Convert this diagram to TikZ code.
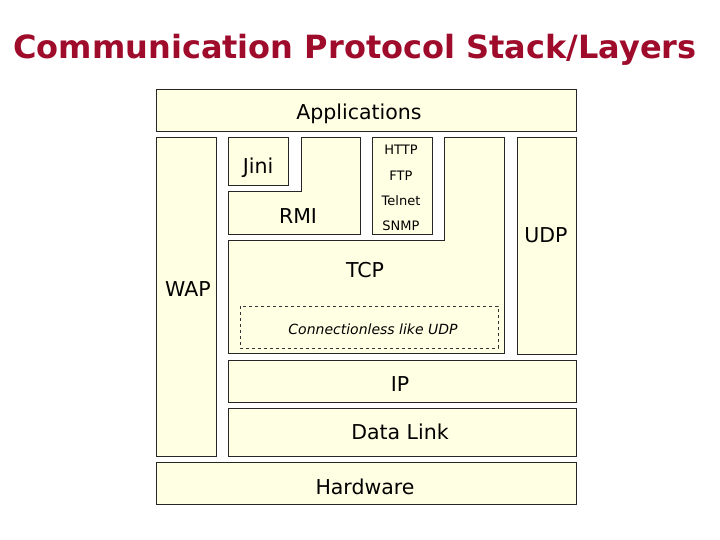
\documentclass[tikz,border=0pt]{standalone}
\usepackage{fontspec}
\setmainfont{DejaVu Sans}
\definecolor{boxfill}{HTML}{FFFFE3}
\definecolor{titlered}{HTML}{9E0B2B}
\begin{document}
\begin{tikzpicture}[x=1pt,y=-1pt,
  box/.style={draw=black!85,fill=boxfill,line width=1pt},
  lbl/.style={font=\fontsize{20.5}{24}\selectfont,inner sep=0pt},
  small/.style={font=\fontsize{13}{15}\selectfont,inner sep=0pt}]
\useasboundingbox (0,0) rectangle (720,540);
\node[text=titlered,font=\bfseries\fontsize{32}{38}\selectfont,inner sep=0pt] (title) at (355,50) {Communication Protocol Stack/Layers};
\draw[box] (156,90) rectangle (576,132);
\node[lbl] (app) at (359,114) {Applications};
\draw[box] (156,138) rectangle (216,456);
\node[lbl] (wap) at (188,289) {WAP};
\draw[box] (228,138) rectangle (288,186);
\node[lbl] (jini) at (258,168) {Jini};
\draw[box] (228,192) -- (301,192) -- (301,138) -- (360,138) -- (360,234) -- (228,234) -- cycle;
\node[lbl] (rmi) at (298,216) {RMI};
\draw[box] (372,138) rectangle (432,234);
\node[small] (http) at (401,150) {HTTP};
\node[small] (ftp) at (401,176) {FTP};
\node[small] (telnet) at (401,201) {Telnet};
\node[small] (snmp) at (401,226) {SNMP};
\draw[box] (228,240) -- (444,240) -- (444,138) -- (504,138) -- (504,353) -- (228,353) -- cycle;
\node[lbl] (tcp) at (365,270) {TCP};
\draw[dashed,draw=black!80,line width=0.8pt] (240,306) rectangle (498,348);
\node[small,font=\itshape\fontsize{14}{16}\selectfont] (cl) at (373,329) {Connectionless like UDP};
\draw[box] (517,138) rectangle (576,354);
\node[lbl] (udp) at (546,235) {UDP};
\draw[box] (228,360) rectangle (576,402);
\node[lbl] (ip) at (400,384) {IP};
\draw[box] (228,408) rectangle (576,456);
\node[lbl] (dl) at (400,432) {Data Link};
\draw[box] (156,462) rectangle (576,504);
\node[lbl] (hw) at (365,487) {Hardware};
\end{tikzpicture}
\end{document}
